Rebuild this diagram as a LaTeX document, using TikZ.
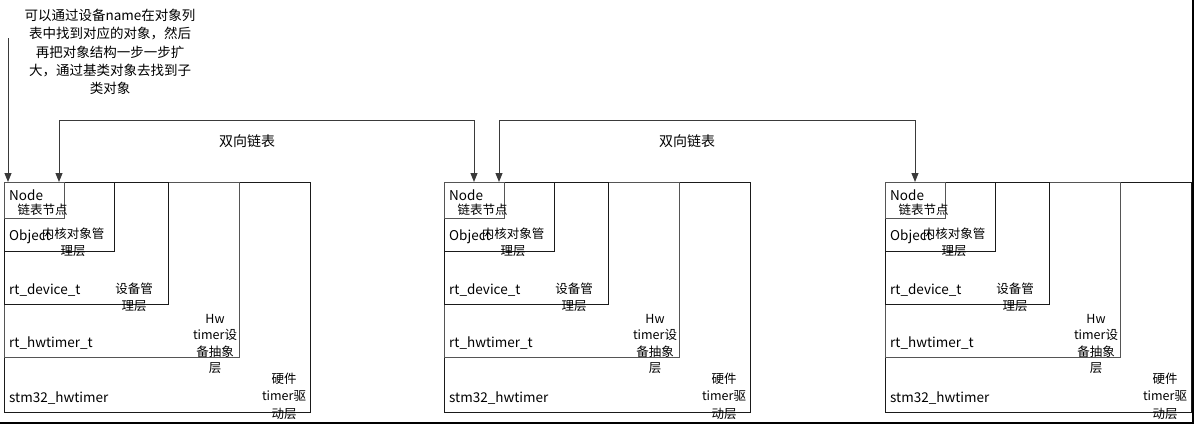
\documentclass[tikz,border=0pt]{standalone}
\usepackage{fontspec}
\setmainfont{Noto Sans CJK SC}
\usepackage{xcolor}
\definecolor{cLine}{HTML}{1A1A1A}
\definecolor{cInner}{HTML}{555555}
\definecolor{cLink}{HTML}{3A3A3A}
\usepackage{tikz}
\usetikzlibrary{positioning,arrows.meta}
\tikzset{
  layer-box/.style={draw=cLine,line width=1pt,anchor=north west,
    inner sep=0pt,outer sep=0pt},
  layer-box-soft/.style={layer-box,draw=cInner},
  layer-name/.style={anchor=west,inner sep=0pt,
    font=\fontsize{13.5}{16}\selectfont},
  layer-tag/.style={align=center,inner sep=0pt,
    font=\fontsize{12.5}{17}\selectfont},
  note-text/.style={align=center,inner sep=0pt,
    font=\fontsize{13.5}{18.4}\selectfont},
  link-label/.style={inner sep=0pt,font=\fontsize{14}{16}\selectfont},
  arrow-link/.style={{Triangle[length=9pt,width=7pt]}-{Triangle[length=9pt,width=7pt]},
    line width=1pt,draw=cLink},
  arrow-note/.style={-{Triangle[length=9pt,width=7pt]},line width=1pt,draw=cLink},
}

\begin{document}
\begin{tikzpicture}[x=1pt,y=-1pt]
  \useasboundingbox (0,0) rectangle (1194,426);

  \node[note-text] (note) at (110,52) {可以通过设备name在对象列\\表中找到对应的对象，然后\\再把对象结构一步一步扩\\大，通过基类对象去找到子\\类对象};

  % three device objects, nested from hardware driver down to list node
  \foreach \g/\gx in {1/4,2/444,3/885}{
    \node[layer-box,minimum width=306pt,minimum height=230pt] (hw\g) at (\gx,182) {};
    \node[layer-box-soft,minimum width=235pt,minimum height=175pt] (drv\g) at (\gx,182) {};
    \node[layer-box,minimum width=164pt,minimum height=122pt] (dev\g) at (\gx,182) {};
    \node[layer-box,minimum width=110pt,minimum height=69pt] (obj\g) at (\gx,182) {};
    \node[layer-box-soft,minimum width=60pt,minimum height=36pt] (node\g) at (\gx,182) {};

    \node[layer-name] (node-name\g) at (\gx+5,195) {Node};
    \node[layer-tag]  (node-tag\g)  at (\gx+38.5,210) {链表节点};
    \node[layer-name] (obj-name\g)  at (\gx+5,237) {Object};
    \node[layer-tag]  (obj-tag\g)   at (\gx+69,242) {内核对象管\\理层};
    \node[layer-name] (dev-name\g)  at (\gx+5,290) {rt\_device\_t};
    \node[layer-tag]  (dev-tag\g)   at (\gx+130,297) {设备管\\理层};
    \node[layer-name] (drv-name\g)  at (\gx+5,343) {rt\_hwtimer\_t};
    \node[layer-tag,font=\fontsize{12.5}{16.3}\selectfont]
                      (drv-tag\g)   at (\gx+211,344) {Hw\\timer设\\备抽象\\层};
    \node[layer-name] (hw-name\g)   at (\gx+5,398) {stm32\_hwtimer};
    \node[layer-tag,font=\fontsize{12.5}{17.5}\selectfont]
                      (hw-tag\g)    at (\gx+280,396) {硬件\\timer驱\\动层};
  }

  % lookup by name, then doubly linked list
  \coordinate (note-foot) at (8,38);
  \draw[arrow-note] (note-foot) -- ([xshift=4pt]node1.north west);
  \draw[arrow-link] ([xshift=-5pt]node1.north east) -- ++(0,-62) -| (node2.north);
  \draw[arrow-link] ([xshift=-5pt]node2.north east) -- ++(0,-62) -| (node3.north);
  \node[link-label] (list1) at (247,141) {双向链表};
  \node[link-label] (list2) at (687,141) {双向链表};

  \draw[line width=1.3pt] (0,423) -- (1193,423) -- (1193,0);
\end{tikzpicture}
\end{document}
